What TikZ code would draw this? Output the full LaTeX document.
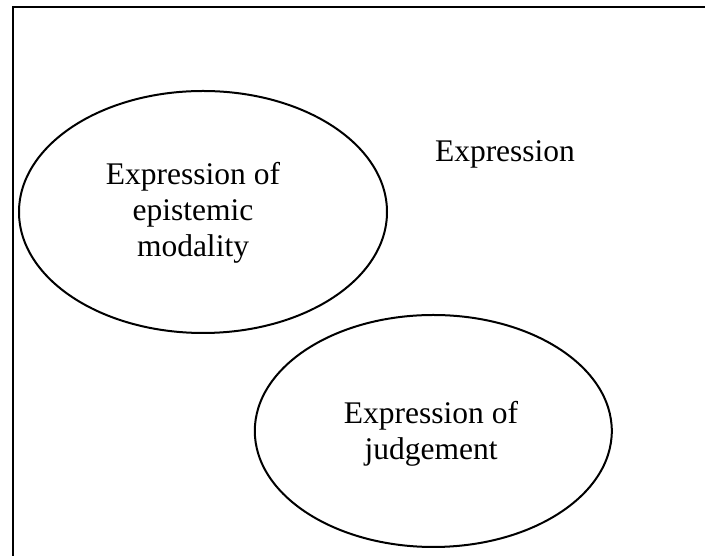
\documentclass[tikz,border=0pt]{standalone}
\usepackage{fontspec}
\setmainfont{Liberation Serif}
\usetikzlibrary{shapes.geometric}
\begin{document}
\begin{tikzpicture}[x=1pt,y=1pt,
  oval/.style={draw=black, line width=2pt, ellipse, inner sep=0pt},
  lbl/.style={font=\fontsize{31.5}{36}\selectfont, align=center, inner sep=0pt, anchor=base},
  frame/.style={draw=black, line width=2.4pt}]
\useasboundingbox (0,0) rectangle (705,556);
\clip (0,0) rectangle (705,556);
\coordinate (fb) at (13,-5);
\coordinate (fc) at (13,548.7);
\coordinate (fr) at (710,548.7);
\draw[frame] (fb) -- (fc) -- (fr);
\node[oval, minimum width=368pt, minimum height=242pt] (e1) at (203,344) {};
\node[oval, minimum width=357pt, minimum height=232pt] (e2) at (433.3,125) {};
\node[lbl] (t1) at (193,299) {Expression of\\epistemic\\modality};
\node[lbl] (t2) at (431,96) {Expression of\\judgement};
\node[lbl] (t3) at (505,394.3) {Expression};
\end{tikzpicture}
\end{document}
